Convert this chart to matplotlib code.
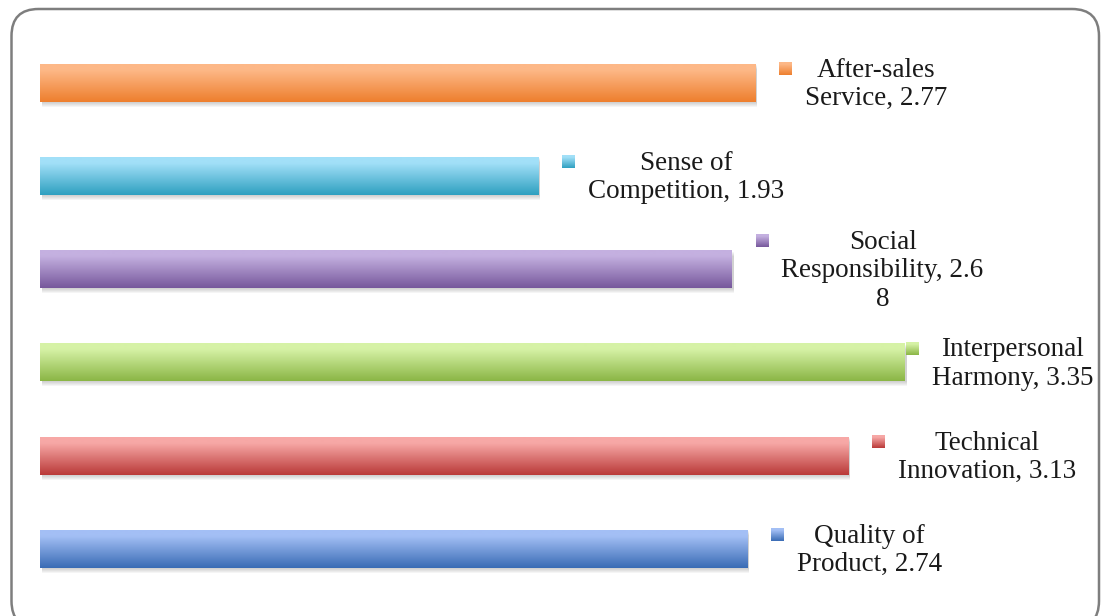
import matplotlib
matplotlib.use("Agg")
import matplotlib.pyplot as plt
from matplotlib.colors import LinearSegmentedColormap
from matplotlib.patches import Rectangle, FancyBboxPatch
from matplotlib.transforms import IdentityTransform
import numpy as np

# categories, top to bottom
categories = ["After-sales\nService", "Sense of\nCompetition", "Social\nResponsibility",
              "Interpersonal\nHarmony", "Technical\nInnovation", "Quality of\nProduct"]
values = [2.77, 1.93, 2.68, 3.35, 3.13, 2.74]
# (light top, dark bottom) for each bar
bar_colors = [("#FDB887", "#EE7F2E"), ("#A2E0F8", "#2FA0C0"), ("#C4B0E0", "#77589C"),
              ("#D6F2A6", "#8BB646"), ("#F7A8A6", "#BA3A39"), ("#A3BFF5", "#3A6CB5")]

W, H, DPI = 1101, 616, 100
UNIT_PX = 258.2      # pixels per unit on the x axis
ROW_PX = 93.2        # pixels between bar centres
X0_PX, Y0_PX = 40, 83

fig = plt.figure(figsize=(W / DPI, H / DPI), dpi=DPI)
ax = fig.add_axes([0, 0, 1, 1])
ax.set_xlim(-X0_PX / UNIT_PX, (W - X0_PX) / UNIT_PX)
ax.set_ylim((H - Y0_PX) / ROW_PX, -Y0_PX / ROW_PX)
ax.axis("off")

px = 1 / UNIT_PX     # one pixel in x data units
py = 1 / ROW_PX      # one pixel in y data units
bar_h = 37.5 * py
grad = np.linspace(0, 1, 64).reshape(-1, 1)


def wrap_label(text, width=19):
    lines = []
    for line in text.split("\n"):
        while len(line) > width:
            lines.append(line[:width])
            line = line[width:]
        lines.append(line)
    return lines


# rounded frame around the chart
frame = FancyBboxPatch((11.5, -12), 1087.5, H - 9 + 12,
                       boxstyle="round,pad=0,rounding_size=27",
                       transform=IdentityTransform(), facecolor="none",
                       edgecolor="#7e7e7e", linewidth=1.8, zorder=10)
fig.add_artist(frame)

renderer = fig.canvas.get_renderer()

for i, (cat, v, (c_top, c_bot)) in enumerate(zip(categories, values, bar_colors)):
    cmap = LinearSegmentedColormap.from_list(
        "g%d" % i, [(0, c_top), (0.15, c_top), (1, c_bot)])
    top, bot = i - bar_h / 2, i + bar_h / 2

    # soft shadow under the bar
    for k in range(1, 6):
        ax.add_patch(Rectangle((2 * px, top + k * py), v, bar_h, facecolor="#555555",
                               alpha=0.06, edgecolor="none", zorder=1))
    ax.imshow(grad, cmap=cmap, extent=(0, v, bot, top), aspect="auto",
              interpolation="bilinear", zorder=2)

    lines = wrap_label(f"{cat}, {v:.2f}")
    label = "\n".join(lines)
    first_y = i - (len(lines) - 1) * 14.2 * py

    txt = ax.text(v + 49.5 * px, i + 1.5 * py, label, ha="left", va="center",
                  multialignment="center", fontsize=19.5, family="Liberation Serif",
                  color="#1a1a1a", linespacing=1.18, zorder=5)
    # keep the label inside the frame
    bb = txt.get_window_extent(renderer)
    shift = max(0, bb.x1 - 1093) * px
    txt.set_x(v + 49.5 * px - shift)

    ax.imshow(grad, cmap=cmap,
              extent=(v + 24 * px - shift, v + 36.5 * px - shift,
                      first_y + 6.5 * py, first_y - 6 * py),
              aspect="auto", interpolation="bilinear", zorder=4)

ax.set_xlim(-X0_PX / UNIT_PX, (W - X0_PX) / UNIT_PX)
ax.set_ylim((H - Y0_PX) / ROW_PX, -Y0_PX / ROW_PX)

fig.savefig("out.png", dpi=DPI)
